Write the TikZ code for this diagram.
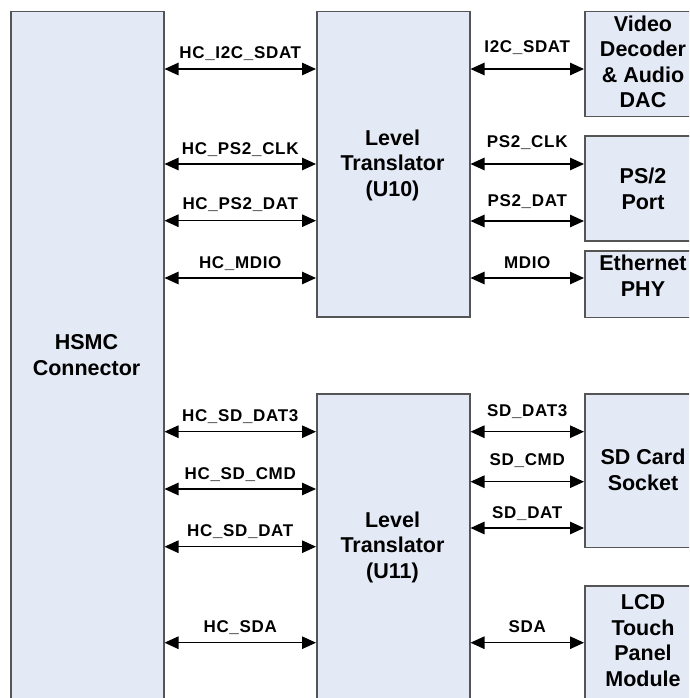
\documentclass[tikz,border=0pt]{standalone}
\usepackage{fontspec}
\setmainfont{Liberation Sans}
\newfontfamily\lblfont[LetterSpace=4]{Liberation Sans}
\usetikzlibrary{arrows.meta}
\definecolor{boxfill}{HTML}{E4EAF5}
\definecolor{boxline}{HTML}{555555}
\tikzset{
  box/.style={draw=boxline, fill=boxfill, line width=1.5pt, inner sep=0pt, anchor=north west},
  boxtext/.style={align=center, inner sep=0pt, font=\fontsize{21.5}{25.5}\selectfont\bfseries},
  sig/.style={line width=1.2pt, {Triangle[length=14pt,width=12.5pt]}-{Triangle[length=14pt,width=12.5pt]}, shorten <=0pt, shorten >=0pt},
  lbl/.style={midway, anchor=base, inner sep=0pt, font=\lblfont\fontsize{17}{20}\selectfont\bfseries}
}
\begin{document}
\begin{tikzpicture}[x=1pt,y=-1pt]
\clip (0,0) rectangle (689,698);
% boxes
\node[box, minimum width=153pt, minimum height=700pt] (hsmc) at (10,10.7) {};
\node[box, minimum width=153pt, minimum height=305.3pt] (u10) at (316,10.7) {};
\node[box, minimum width=130pt, minimum height=105.3pt] (video) at (584,10.7) {};
\node[box, minimum width=130pt, minimum height=105pt] (ps2) at (584,135) {};
\node[box, minimum width=130pt, minimum height=66.7pt] (eth) at (584,250) {};
\node[box, minimum width=153pt, minimum height=320pt] (u11) at (316,393.3) {};
\node[box, minimum width=130pt, minimum height=153.4pt] (sd) at (584,393.3) {};
\node[box, minimum width=130pt, minimum height=130pt] (lcd) at (584,585) {};
% box texts
\node[boxtext] (hsmct) at (86.5,355) {HSMC\\Connector};
\node[boxtext] (u10t) at (392.5,165) {Level\\Translator\\(U10)};
\node[boxtext] (videot) at (643,62) {Video\\Decoder\\\& Audio\\DAC};
\node[boxtext] (ps2t) at (643,189) {PS/2\\Port};
\node[boxtext] (etht) at (643,275.5) {Ethernet\\PHY};
\node[boxtext] (u11t) at (392.5,547) {Level\\Translator\\(U11)};
\node[boxtext] (sdt) at (643,470) {SD Card\\Socket};
\node[boxtext] (lcdt) at (643,640.5) {LCD\\Touch\\Panel\\Module};
% left signals, upper
\draw[sig] (hsmc.east |- 0,69) -- node[lbl, yshift=10pt] {HC\_I2C\_SDAT} (u10.west |- 0,69);
\draw[sig] (hsmc.east |- 0,164) -- node[lbl, yshift=9.5pt] {HC\_PS2\_CLK} (u10.west |- 0,164);
\draw[sig] (hsmc.east |- 0,220.7) -- node[lbl, yshift=11pt] {HC\_PS2\_DAT} (u10.west |- 0,220.7);
\draw[sig] (hsmc.east |- 0,278) -- node[lbl, yshift=10pt] {HC\_MDIO} (u10.west |- 0,278);
% left signals, lower
\draw[sig] (hsmc.east |- 0,431.7) -- node[lbl, yshift=10.5pt] {HC\_SD\_DAT3} (u11.west |- 0,431.7);
\draw[sig] (hsmc.east |- 0,489) -- node[lbl, yshift=10pt] {HC\_SD\_CMD} (u11.west |- 0,489);
\draw[sig] (hsmc.east |- 0,546.7) -- node[lbl, yshift=10pt] {HC\_SD\_DAT} (u11.west |- 0,546.7);
\draw[sig] (hsmc.east |- 0,642.7) -- node[lbl, yshift=10pt] {HC\_SDA} (u11.west |- 0,642.7);
% right signals, upper
\draw[sig] (u10.east |- 0,69) -- node[lbl, yshift=16.3pt] {I2C\_SDAT} (video.west |- 0,69);
\draw[sig] (u10.east |- 0,164) -- node[lbl, yshift=17pt] {PS2\_CLK} (ps2.west |- 0,164);
\draw[sig] (u10.east |- 0,221) -- node[lbl, yshift=14.3pt] {PS2\_DAT} (ps2.west |- 0,221);
\draw[sig] (u10.east |- 0,278) -- node[lbl, yshift=10pt] {MDIO} (eth.west |- 0,278);
% right signals, lower
\draw[sig] (u11.east |- 0,431.7) -- node[lbl, yshift=15.7pt] {SD\_DAT3} (sd.west |- 0,431.7);
\draw[sig] (u11.east |- 0,481.7) -- node[lbl, yshift=16.5pt] {SD\_CMD} (sd.west |- 0,481.7);
\draw[sig] (u11.east |- 0,528) -- node[lbl, yshift=9.7pt] {SD\_DAT} (sd.west |- 0,528);
\draw[sig] (u11.east |- 0,642.7) -- node[lbl, yshift=10pt] {SDA} (lcd.west |- 0,642.7);
\end{tikzpicture}
\end{document}
